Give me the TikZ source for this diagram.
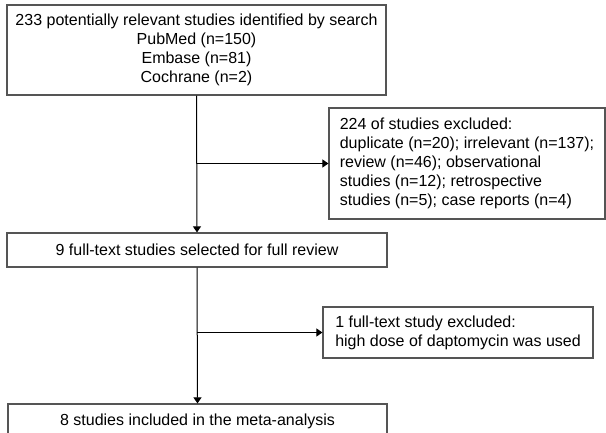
\documentclass[tikz,border=0pt]{standalone}
\usepackage{fontspec}
\setmainfont{Liberation Sans}
\usepackage{xcolor}
\definecolor{boxgray}{HTML}{555555}
\usetikzlibrary{arrows.meta, positioning}

\begin{document}
\begin{tikzpicture}[x=1pt, y=-1pt,
  flowbox/.style={draw=boxgray, line width=1.2pt, inner sep=0pt, align=center,
    font=\fontsize{16}{19}\selectfont},
  sidebox/.style={flowbox, align=left},
  flowarrow/.style={-{Triangle[length=6pt, width=8pt]}, line width=1pt}]
  \clip (0,0) rectangle (606,432);
  % main column
  \node[flowbox, minimum width=379pt, minimum height=90pt] (search) at (196.5,50)
    {233 potentially relevant studies identified by search\\
     PubMed (n=150)\\ Embase (n=81)\\ Cochrane (n=2)};
  \node[flowbox, minimum width=380pt, minimum height=34pt] (fulltext) at (197,250)
    {9 full-text studies selected for full review};
  \node[flowbox, minimum width=379pt, minimum height=34pt] (included) at (197.5,421)
    {8 studies included in the meta-analysis};
  % excluded boxes
  \node[sidebox, minimum width=276pt, minimum height=111pt] (exclA) at (467,163.5)
    {224 of studies excluded:\\
     duplicate (n=20); irrelevant (n=137);\\
     review (n=46); observational\\
     studies (n=12); retrospective\\
     studies (n=5); case reports (n=4)};
  \node[sidebox, minimum width=270pt, minimum height=51pt] (exclB) at (458,332.5)
    {1 full-text study excluded:\\
     high dose of daptomycin was used};
  % arrows
  \draw[flowarrow] (search.south) -- (fulltext.north);
  \draw[flowarrow] (search.south |- exclA.west) -- (exclA.west);
  \draw[flowarrow] (fulltext.south) -- (included.north);
  \draw[flowarrow] (fulltext.south |- exclB.west) -- (exclB.west);
\end{tikzpicture}
\end{document}
